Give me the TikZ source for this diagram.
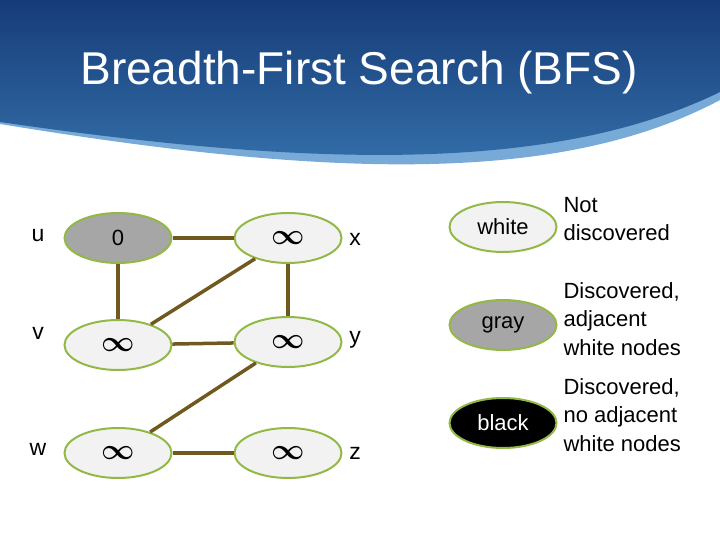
\documentclass[tikz,border=0pt]{standalone}
\usepackage{fontspec}
\usepackage{amsmath}
\usepackage{amssymb}
\setmainfont{Liberation Sans}
\usetikzlibrary{shapes.geometric}

\definecolor{edgebrown}{RGB}{112,88,30}
\definecolor{rimgreen}{RGB}{146,184,70}
\definecolor{deepblue}{RGB}{22,60,120}
\definecolor{midblue}{RGB}{52,112,170}
\definecolor{paleblue}{RGB}{120,170,215}

\newcommand{\inftyb}{\scalebox{1.4}{$\boldsymbol{\infty}$}}

\tikzset{
  vert/.style={ellipse, draw=rimgreen, line width=2pt, fill=gray!10, minimum width=107pt, minimum height=50pt, font=\fontsize{22}{26}\selectfont},
  link/.style={draw=edgebrown, line width=3.5pt},
  tag/.style={font=\fontsize{23}{26}\selectfont},
  note/.style={font=\fontsize{22}{28.5}\selectfont, align=left, anchor=west}
}

\begin{document}
\begin{tikzpicture}[x=1pt,y=-1pt]
        \useasboundingbox (0,0) rectangle (720,540);
        % header band
        \fill[paleblue] (0,0) -- (720,0) -- (720,100) .. controls (560,185) and (330,178) .. (0,124) -- cycle;
        \shade[top color=deepblue, bottom color=midblue] (0,0) -- (720,0) -- (720,92) .. controls (560,170) and (330,170) .. (0,122) -- cycle;
        \node[white, font=\fontsize{46}{50}\selectfont] (title) at (359,73) {Breadth-First Search (BFS)};

        % graph
        \node[vert, fill=gray!70] (u) at (118,238) {0};
        \node[vert] (x) at (288,238) {\inftyb};
        \node[vert] (v) at (118,345) {\inftyb};
        \node[vert] (y) at (288,342) {\inftyb};
        \node[vert] (w) at (118,453) {\inftyb};
        \node[vert] (z) at (288,453) {\inftyb};

        \draw[link] (u) -- (x);
        \draw[link] (u) -- (v);
        \draw[link] (v) -- (x);
        \draw[link] (x) -- (y);
        \draw[link] (v) -- (y);
        \draw[link] (w) -- (y);
        \draw[link] (w) -- (z);

        \node[tag] (lu) at (38,236) {u};
        \node[tag] (lv) at (38,333) {v};
        \node[tag] (lw) at (38,449) {w};
        \node[tag] (lx) at (355,239) {x};
        \node[tag] (ly) at (355,340) {y};
        \node[tag] (lz) at (355,453) {z};

        % legend
        \node[vert] (white) at (503,227) {white};
        \node[vert, fill=gray!70] (gray) at (503,325) {gray};
        \node[vert, fill=black, text=white] (black) at (503,423) {black};
        \node[note] (nwhite) at (560,219) {Not\\discovered};
        \node[note] (ngray) at (560,319) {Discovered,\\adjacent\\white nodes};
        \node[note] (nblack) at (560,415) {Discovered,\\no adjacent\\white nodes};
    \end{tikzpicture}
\end{document}
